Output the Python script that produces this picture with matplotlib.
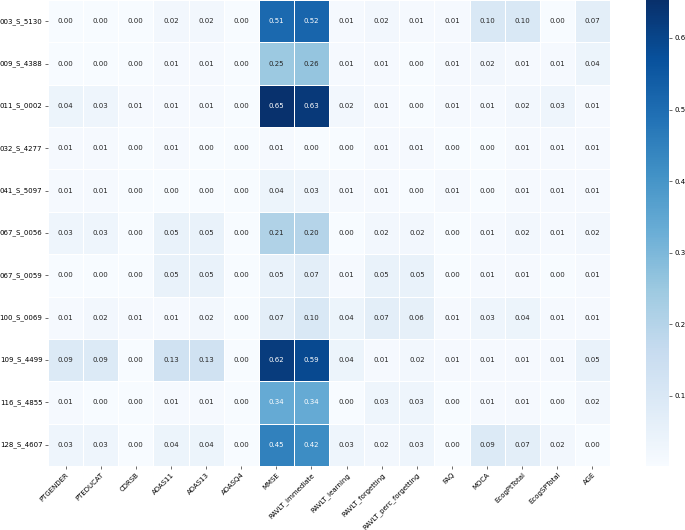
import numpy as np
import pandas as pd
import matplotlib
matplotlib.use('Agg')
import matplotlib.pyplot as plt
import seaborn as sns

# subjects (rows) and features (columns)
subjects = ['003_S_5130', '009_S_4388', '011_S_0002', '032_S_4277', '041_S_5097',
            '067_S_0056', '067_S_0059', '100_S_0069', '109_S_4499', '116_S_4855',
            '128_S_4607']
features = ['PTGENDER', 'PTEDUCAT', 'CDRSB', 'ADAS11', 'ADAS13', 'ADASQ4', 'MMSE',
            'RAVLT_immediate', 'RAVLT_learning', 'RAVLT_forgetting',
            'RAVLT_perc_forgetting', 'FAQ', 'MOCA', 'EcogPtTotal', 'EcogSPTotal', 'AGE']

row_003 = [0.00, 0.00, 0.00, 0.02, 0.02, 0.00, 0.51, 0.52, 0.01, 0.02, 0.01, 0.01, 0.10, 0.10, 0.00, 0.07]
row_009 = [0.00, 0.00, 0.00, 0.01, 0.01, 0.00, 0.25, 0.26, 0.01, 0.01, 0.00, 0.01, 0.02, 0.01, 0.01, 0.04]
row_011 = [0.04, 0.03, 0.01, 0.01, 0.01, 0.00, 0.65, 0.63, 0.02, 0.01, 0.00, 0.01, 0.01, 0.02, 0.03, 0.01]
row_032 = [0.01, 0.01, 0.00, 0.01, 0.00, 0.00, 0.01, 0.00, 0.00, 0.01, 0.01, 0.00, 0.00, 0.01, 0.01, 0.01]
row_041 = [0.01, 0.01, 0.00, 0.00, 0.00, 0.00, 0.04, 0.03, 0.01, 0.01, 0.00, 0.01, 0.00, 0.01, 0.01, 0.01]
row_0056 = [0.03, 0.03, 0.00, 0.05, 0.05, 0.00, 0.21, 0.20, 0.00, 0.02, 0.02, 0.00, 0.01, 0.02, 0.01, 0.02]
row_0059 = [0.00, 0.00, 0.00, 0.05, 0.05, 0.00, 0.05, 0.07, 0.01, 0.05, 0.05, 0.00, 0.01, 0.01, 0.00, 0.01]
row_100 = [0.01, 0.02, 0.01, 0.01, 0.02, 0.00, 0.07, 0.10, 0.04, 0.07, 0.06, 0.01, 0.03, 0.04, 0.01, 0.01]
row_109 = [0.09, 0.09, 0.00, 0.13, 0.13, 0.00, 0.62, 0.59, 0.04, 0.01, 0.02, 0.01, 0.01, 0.01, 0.01, 0.05]
row_116 = [0.01, 0.00, 0.00, 0.01, 0.01, 0.00, 0.34, 0.34, 0.00, 0.03, 0.03, 0.00, 0.01, 0.01, 0.00, 0.02]
row_128 = [0.03, 0.03, 0.00, 0.04, 0.04, 0.00, 0.45, 0.42, 0.03, 0.02, 0.03, 0.00, 0.09, 0.07, 0.02, 0.00]

df = pd.DataFrame([row_003, row_009, row_011, row_032, row_041, row_0056, row_0059,
                   row_100, row_109, row_116, row_128],
                  index=subjects, columns=features)

fig = plt.figure(figsize=(6.85, 5.30), dpi=100)
ax = fig.add_axes([48/685, 64/530, 562/685, 466/530])
cax = fig.add_axes([646/685, 64/530, 23/685, 466/530])

# colour scale runs a touch above zero so no 0.0 tick shows on the bar
sns.heatmap(df, ax=ax, cbar_ax=cax, cmap='Blues', annot=True, fmt='.2f',
            vmin=0.002, vmax=0.653,
            annot_kws={'fontsize': 5}, linewidths=0.5, linecolor='white')

ax.set_xticklabels(ax.get_xticklabels(), rotation=45, ha='right',
                   rotation_mode='anchor', fontsize=5)
ax.set_yticklabels(ax.get_yticklabels(), rotation=0, fontsize=5)
ax.tick_params(length=2, width=0.5, pad=2, color='#333333')
cax.tick_params(labelsize=5, length=2, width=0.5, pad=2, color='#333333')
cax.set_frame_on(False)

plt.savefig('out.png', dpi=100)
